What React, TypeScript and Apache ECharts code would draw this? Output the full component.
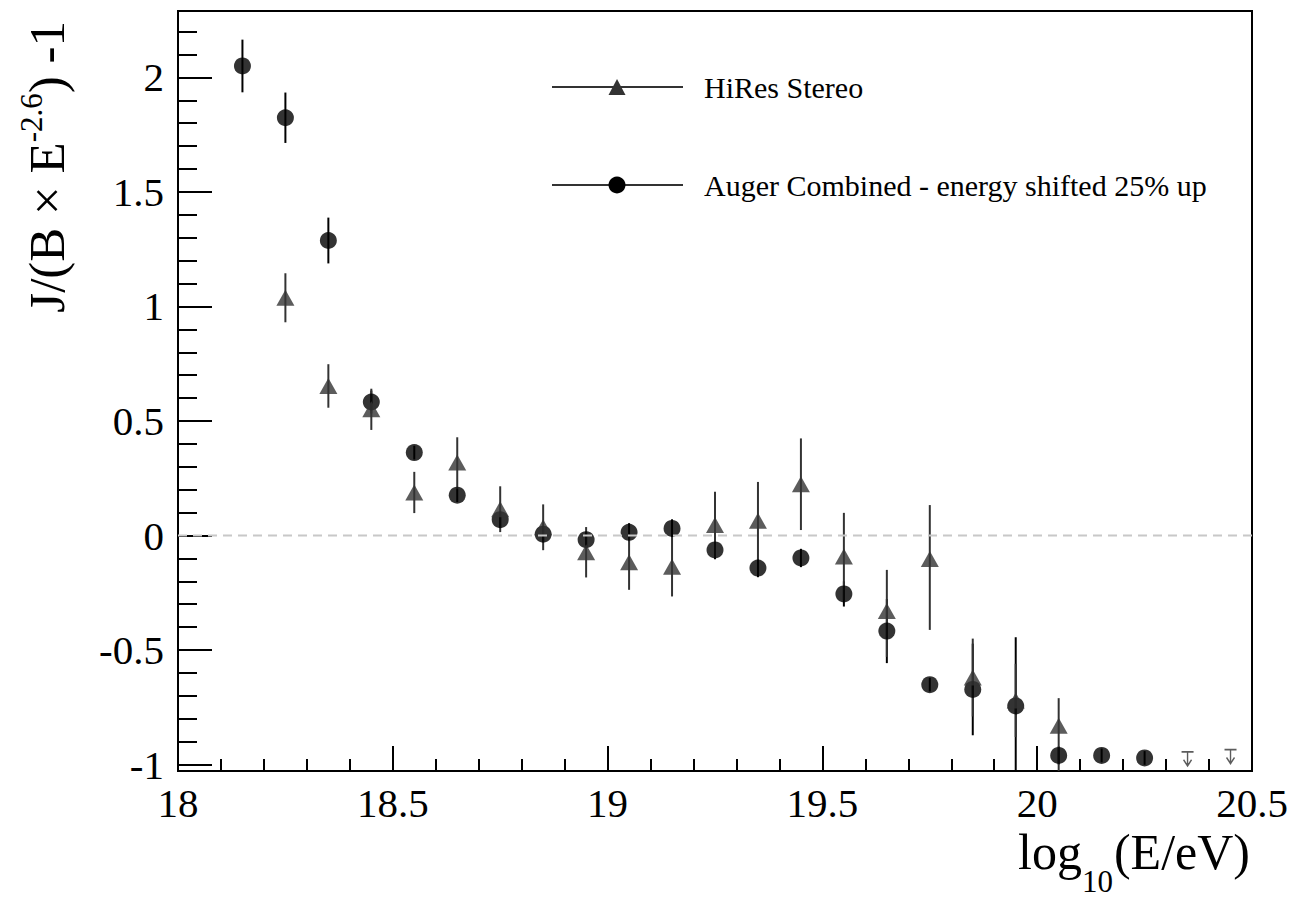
import React, { useEffect, useRef } from 'react';
import * as echarts from 'echarts';

const SERIF = '"Liberation Serif", "Times New Roman", serif';

// Auger Combined - energy shifted 25% up (circles)
const augerEnergy = [18.15, 18.25, 18.35, 18.45, 18.55, 18.65, 18.75, 18.85, 18.95, 19.05, 19.15, 19.25, 19.35, 19.45, 19.55, 19.65, 19.75, 19.85, 19.95, 20.05, 20.15, 20.25];
const augerValue = [2.05, 1.824, 1.288, 0.583, 0.362, 0.176, 0.069, 0.006, -0.018, 0.014, 0.031, -0.063, -0.142, -0.098, -0.255, -0.417, -0.651, -0.672, -0.744, -0.96, -0.96, -0.971];
const augerError = [0.115, 0.11, 0.1, 0.05, 0.03, 0.03, 0.035, 0.035, 0.035, 0.04, 0.04, 0.04, 0.04, 0.04, 0.055, 0.14, 0.03, 0.2, 0.3, 0.04, 0.03, 0.03];

// HiRes Stereo (triangles)
const hiresEnergy = [18.25, 18.35, 18.45, 18.55, 18.65, 18.75, 18.85, 18.95, 19.05, 19.15, 19.25, 19.35, 19.45, 19.55, 19.65, 19.75, 19.85, 19.95, 20.05];
const hiresValue = [1.038, 0.653, 0.551, 0.188, 0.319, 0.115, 0.036, -0.073, -0.117, -0.136, 0.046, 0.064, 0.224, -0.091, -0.33, -0.102, -0.62, -0.72, -0.83];
const hiresErrUp = [0.107, 0.095, 0.09, 0.09, 0.11, 0.1, 0.1, 0.11, 0.12, 0.13, 0.145, 0.17, 0.2, 0.19, 0.18, 0.235, 0.17, 0.16, 0.12];
const hiresErrDown = [0.107, 0.095, 0.09, 0.09, 0.11, 0.1, 0.1, 0.11, 0.12, 0.13, 0.145, 0.17, 0.2, 0.19, 0.2, 0.31, 0.17, 0.16, 0.2];

// HiRes upper limits
const hiresLimitEnergy = [20.35, 20.45];
const hiresLimitValue = [-0.975, -0.965];

const legendNames = ['HiRes Stereo', 'Auger Combined - energy shifted 25% up'];
const xTitleParts = ['log', '10', '(E/eV)'];
const yTitle = 'J/(B × E{sup|-2.6}) -1';
const xRange = [18, 20.5];
const yRange = [-1.028, 2.29];

const errorBarRenderer = (color: string) => (params: any, api: any) => {
  const x = api.value(0);
  const lo = api.value(1);
  const hi = api.value(2);
  const pTop = api.coord([x, hi]);
  const pBot = api.coord([x, lo]);
  const cs = params.coordSys;
  const top = Math.max(pTop[1], cs.y);
  const bottom = Math.min(pBot[1], cs.y + cs.height);
  return {
    type: 'line',
    shape: { x1: pTop[0], y1: top, x2: pTop[0], y2: bottom },
    style: { stroke: color, lineWidth: 2 },
  };
};

function measure(text: string, size: number): number {
  const c = document.createElement('canvas').getContext('2d');
  if (!c) return text.length * size * 0.5;
  c.font = `${size}px ${SERIF}`;
  return c.measureText(text).width;
}

export default function App() {
  const ref = useRef<HTMLDivElement>(null);
  useEffect(() => {
    if (!ref.current) return;
    const chart = echarts.init(ref.current, undefined, { renderer: 'svg' });

    const augerBars = augerEnergy.map((x, i) => [x, augerValue[i] - augerError[i], augerValue[i] + augerError[i]]);
    const hiresBars = hiresEnergy.map((x, i) => [x, hiresValue[i] - hiresErrDown[i], hiresValue[i] + hiresErrUp[i]]);
    const augerPts = augerEnergy.map((x, i) => [x, augerValue[i]]);
    const hiresPts = hiresEnergy.map((x, i) => [x, hiresValue[i]]);
    const limitPts = hiresLimitEnergy.map((x, i) => [x, hiresLimitValue[i]]);

    // x title: "log" + subscript "10" + "(E/eV)", right-aligned at the frame edge
    const mainSize = 50;
    const subSize = 31;
    const titleRight = 1250;
    const titleMid = 852;
    const w3 = measure(xTitleParts[2], mainSize);
    const w2 = measure(xTitleParts[1], subSize);
    const x3 = titleRight - w3;
    const x2 = x3 - w2 - 1;

    chart.setOption({
      animation: false,
      backgroundColor: '#ffffff',
      grid: {
        left: 178,
        right: 46,
        top: 11,
        bottom: 128,
        show: true,
        borderColor: '#000',
        borderWidth: 2,
        backgroundColor: 'transparent',
      },
      xAxis: {
        type: 'value',
        min: xRange[0],
        max: xRange[1],
        interval: 0.5,
        axisLine: { show: true, onZero: false, lineStyle: { color: '#000', width: 2 } },
        axisTick: { show: true, inside: true, length: 25, lineStyle: { color: '#000', width: 2 } },
        minorTick: { show: true, splitNumber: 5, length: 12, lineStyle: { color: '#000', width: 2 } },
        splitLine: { show: false },
        axisLabel: { margin: 12, lineHeight: 40, fontFamily: SERIF, fontSize: 41, color: '#000' },
      },
      yAxis: {
        type: 'value',
        min: yRange[0],
        max: yRange[1],
        minInterval: 0.5,
        maxInterval: 0.5,
        splitNumber: 6,
        axisLine: { show: true, onZero: false, lineStyle: { color: '#000', width: 2 } },
        axisTick: { show: true, inside: true, length: 34, lineStyle: { color: '#000', width: 2 } },
        minorTick: { show: true, splitNumber: 5, length: 19, lineStyle: { color: '#000', width: 2 } },
        splitLine: { show: false },
        axisLabel: { margin: 14, fontFamily: SERIF, fontSize: 41, color: '#000', showMinLabel: false, showMaxLabel: false },
      },
      series: [
        {
          type: 'line',
          data: [[xRange[0], 0], [xRange[1], 0]],
          symbol: 'none',
          silent: true,
          lineStyle: { color: '#c8c8c8', width: 2, type: [9, 6] },
        },
        {
          type: 'custom',
          renderItem: errorBarRenderer('#000'),
          data: augerBars,
          encode: { x: 0, y: [1, 2] },
        },
        {
          type: 'scatter',
          data: augerPts,
          symbol: 'circle',
          symbolSize: 17,
          itemStyle: { color: '#000' },
        },
        {
          type: 'custom',
          renderItem: errorBarRenderer('#333'),
          data: hiresBars,
          encode: { x: 0, y: [1, 2] },
        },
        {
          type: 'scatter',
          data: hiresPts,
          symbol: 'triangle',
          symbolSize: [18, 16],
          itemStyle: { color: '#333' },
        },
        {
          type: 'scatter',
          data: limitPts,
          symbol: 'path://M0,0L12,0M6,0L6,14M2,8L6,14L10,8',
          symbolSize: [12, 14],
          itemStyle: { color: 'transparent', borderColor: '#333', borderWidth: 1.5 },
        },
      ],
      graphic: [
        // legend
        { type: 'line', shape: { x1: 552, y1: 87, x2: 683, y2: 87 }, style: { stroke: '#333', lineWidth: 2 } },
        { type: 'polygon', shape: { points: [[608.5, 95], [625.5, 95], [617, 79]] }, style: { fill: '#333' } },
        { type: 'text', style: { x: 704, y: 87, text: legendNames[0], fontFamily: SERIF, fontSize: 30, fill: '#000', verticalAlign: 'middle' } },
        { type: 'line', shape: { x1: 552, y1: 185, x2: 683, y2: 185 }, style: { stroke: '#333', lineWidth: 2 } },
        { type: 'circle', shape: { cx: 617, cy: 185, r: 8.5 }, style: { fill: '#000' } },
        { type: 'text', style: { x: 704, y: 185, text: legendNames[1], fontFamily: SERIF, fontSize: 30, fill: '#000', verticalAlign: 'middle' } },
        // x axis title
        { type: 'text', style: { x: x2, y: titleMid, text: xTitleParts[0], align: 'right', verticalAlign: 'middle', fontFamily: SERIF, fontSize: mainSize, fill: '#000' } },
        { type: 'text', style: { x: x2, y: titleMid + 29, text: xTitleParts[1], align: 'left', verticalAlign: 'middle', fontFamily: SERIF, fontSize: subSize, fill: '#000' } },
        { type: 'text', style: { x: x3, y: titleMid, text: xTitleParts[2], align: 'left', verticalAlign: 'middle', fontFamily: SERIF, fontSize: mainSize, fill: '#000' } },
        // y axis title
        {
          type: 'text',
          x: 47,
          y: 21,
          rotation: Math.PI / 2,
          style: {
            x: 0,
            y: 0,
            text: yTitle,
            align: 'right',
            verticalAlign: 'middle',
            fontFamily: SERIF,
            fontSize: 51,
            lineHeight: 62,
            fill: '#000',
            rich: {
              sup: { fontFamily: SERIF, fontSize: 31, verticalAlign: 'top', fill: '#000' },
            },
          },
        },
      ],
    });
    return () => chart.dispose();
  }, []);
  return (
    <div
      ref={ref}
      style={{ position: 'fixed', left: 0, top: 0, width: 1298, height: 899, background: '#fff' }}
    />
  );
}
